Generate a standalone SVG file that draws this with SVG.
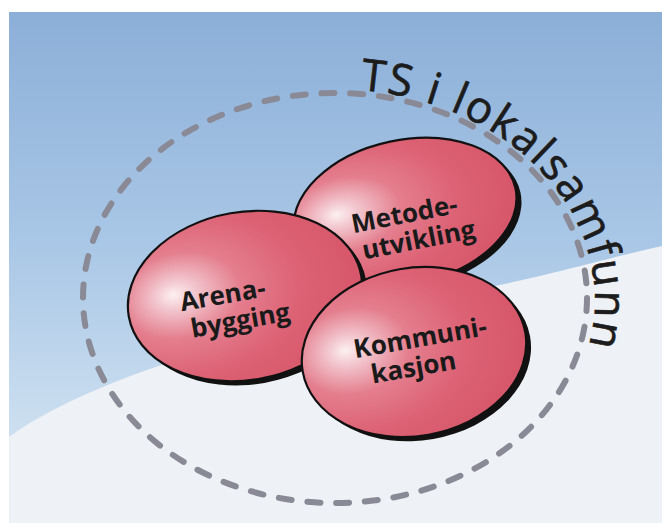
<svg xmlns="http://www.w3.org/2000/svg" width="662" height="523" viewBox="0 0 662 523">
  <defs>
    <linearGradient id="sky" x1="0" y1="0" x2="0" y2="1">
      <stop offset="0" stop-color="#8cafd8"/>
      <stop offset="0.45" stop-color="#a9c7e6"/>
      <stop offset="0.85" stop-color="#cfe1f1"/>
      <stop offset="1" stop-color="#d8e7f4"/>
    </linearGradient>
    <radialGradient id="red" cx="0.3" cy="0.45" r="0.8" fx="0.2" fy="0.42">
      <stop offset="0" stop-color="#fcf0f2"/>
      <stop offset="0.1" stop-color="#f3c9d0"/>
      <stop offset="0.32" stop-color="#e47e8e"/>
      <stop offset="0.6" stop-color="#dc6274"/>
      <stop offset="1" stop-color="#d55266"/>
    </radialGradient>
    <path id="ringText" d="M 360,90 A 258 211 0 0 1 589,345"/>
  </defs>
  <style>
    .shadow { fill: #111; }
    .egg { fill: url(#red); stroke: #111; stroke-width: 2.2; }
    .lbl { font-family: "Open Sans", "Liberation Sans", sans-serif; font-weight: 700; font-size: 26px; fill: #1a1a1a; }
    .ring { fill: none; stroke: #8a8a96; stroke-width: 6; stroke-linecap: round; stroke-dasharray: 13 15.8; }
    .title { font-family: "Open Sans", "Liberation Sans", sans-serif; font-size: 44px; fill: #1c1c1c; stroke: #1c1c1c; stroke-width: 0.7; }
  </style>

  <rect x="0" y="0" width="662" height="523" fill="#ffffff"/>
  <rect x="9" y="12" width="653" height="511" fill="url(#sky)"/>
  <path d="M 9,437 C 90,378 250,333 400,305 S 590,262 662,246 L 662,523 L 9,523 Z" fill="#eef1f6"/>

  <g id="connectors">
    <ellipse class="ring" cx="335" cy="298" rx="252" ry="205"/>
  </g>

  <g id="title-ring">
    <text class="title"><textPath href="#ringText" textLength="392" lengthAdjust="spacing">TS i lokalsamfunn</textPath></text>
  </g>

  <g id="node-metode" transform="rotate(-12 405 212)">
    <ellipse class="shadow" cx="409" cy="217" rx="113" ry="72"/>
    <ellipse class="egg" cx="405" cy="212" rx="113" ry="72"/>
    <text class="lbl" x="350" y="222" transform="rotate(1 350 222)">Metode-</text>
    <text class="lbl" x="355" y="250" transform="rotate(1 355 250)">utvikling</text>
  </g>

  <g id="node-arena" transform="rotate(-10 245 296)">
    <ellipse class="shadow" cx="249" cy="301" rx="118" ry="84"/>
    <ellipse class="egg" cx="245" cy="296" rx="118" ry="84"/>
    <text class="lbl" x="180" y="300">Arena-</text>
    <text class="lbl" x="186" y="328">bygging</text>
  </g>

  <g id="node-kommuni" transform="rotate(-10 414 352)">
    <ellipse class="shadow" cx="418" cy="357" rx="113" ry="84"/>
    <ellipse class="egg" cx="414" cy="352" rx="113" ry="84"/>
    <text class="lbl" x="355" y="348">Kommuni-</text>
    <text class="lbl" x="368" y="376">kasjon</text>
  </g>
</svg>
